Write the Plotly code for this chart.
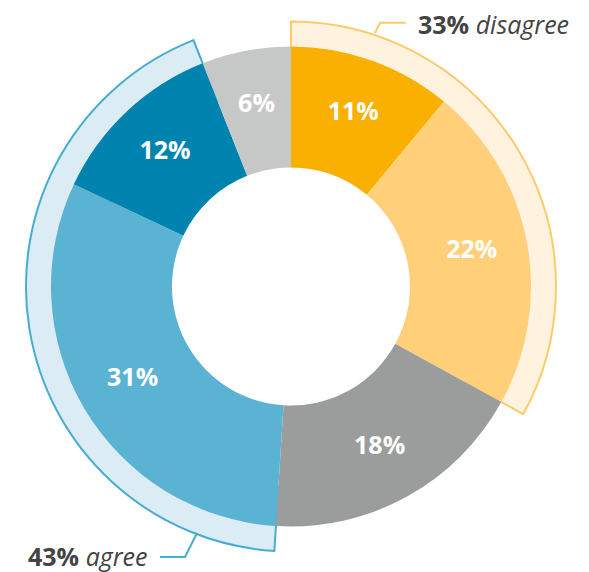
import numpy as np
import plotly.graph_objects as go

# Survey responses, clockwise from 12 o'clock
categories = ["Strongly disagree", "Disagree", "Neither", "Agree", "Strongly agree", "Don't know"]
shares = [11, 22, 18, 31, 12, 6]
slice_colors = ["#F9B000", "#FFCF7A", "#9B9D9C", "#5BB3D3", "#0083AE", "#C6C7C7"]

# Grouped outer bands
group_names = ["disagree", "agree"]
group_members = [[0, 1], [3, 4]]
group_fill = ["#FFF3DF", "#DCECF5"]
group_line = ["#FFCA6A", "#45ADD0"]

W, H = 589, 572
CX, CY = 291, 286.5          # centre of the ring, px from top-left
R = 280                      # radial axis span in px (1 radial unit = 1 px)
HOLE, OUTER = 119, 240
BAND_IN, BAND_OUT = 200, 265
LABEL_R = 184

deg = 360.0 / sum(shares)
starts = np.cumsum([0] + shares[:-1]) * deg
widths = np.array(shares) * deg
mids = starts + widths / 2

fig = go.Figure()

# outer group bands (drawn first so the ring covers their inner part)
for name, members, fc, lc in zip(group_names, group_members, group_fill, group_line):
    total = sum(shares[i] for i in members)
    t0 = starts[members[0]]
    fig.add_trace(go.Barpolar(
        r=[BAND_OUT - BAND_IN], base=[BAND_IN],
        theta=[t0 + total * deg / 2], width=[total * deg],
        marker=dict(color=fc, line=dict(color=lc, width=2)),
        hoverinfo="skip", showlegend=False,
    ))

# the ring itself
fig.add_trace(go.Barpolar(
    r=[OUTER - HOLE] * len(shares), base=[HOLE] * len(shares),
    theta=mids, width=widths,
    marker=dict(color=slice_colors, line=dict(width=0)),
    customdata=categories, hovertemplate="%{customdata}<extra></extra>",
    showlegend=False,
))

# value labels inside the slices
fig.add_trace(go.Scatterpolar(
    r=[LABEL_R] * len(shares), theta=mids,
    mode="text", text=[f"<b>{s}%</b>" for s in shares],
    textfont=dict(family="Open Sans", size=25, color="white"),
    hoverinfo="skip", showlegend=False,
))

fig.update_layout(
    width=W, height=H,
    margin=dict(l=0, r=0, t=0, b=0),
    paper_bgcolor="white",
    polar=dict(
        domain=dict(x=[(CX - R) / W, (CX + R) / W],
                    y=[1 - (CY + R) / H, 1 - (CY - R) / H]),
        bgcolor="rgba(0,0,0,0)",
        radialaxis=dict(range=[0, R], visible=False),
        angularaxis=dict(direction="clockwise", rotation=90, visible=False,
                         showgrid=False, showline=False, showticklabels=False, ticks=""),
    ),
)


def px(x, y):
    return x / W, 1 - y / H


# leader lines and group captions
leaders = [
    [(375, 33), (380, 22.7), (406, 22.7)],
    [(197, 533), (185, 557), (160, 557)],
]
captions = [(416, 24.5, "left"), (150, 555.5, "right")]

for (name, members, lc, pts, cap) in zip(group_names, group_members, group_line, leaders, captions):
    p = [px(*q) for q in pts]
    path = "M {} {} L {} {} L {} {}".format(p[0][0], p[0][1], p[1][0], p[1][1], p[2][0], p[2][1])
    fig.add_shape(type="path", path=path, xref="paper", yref="paper",
                  line=dict(color=lc, width=2))
    total = sum(shares[i] for i in members)
    ax, ay = px(cap[0], cap[1])
    fig.add_annotation(
        x=ax, y=ay, xref="paper", yref="paper",
        xanchor=cap[2], yanchor="middle", showarrow=False,
        text=f"<b>{total}%</b> <i>{name}</i>",
        font=dict(family="Open Sans", size=25, color="#434343"),
    )

fig.write_html("out.html")
